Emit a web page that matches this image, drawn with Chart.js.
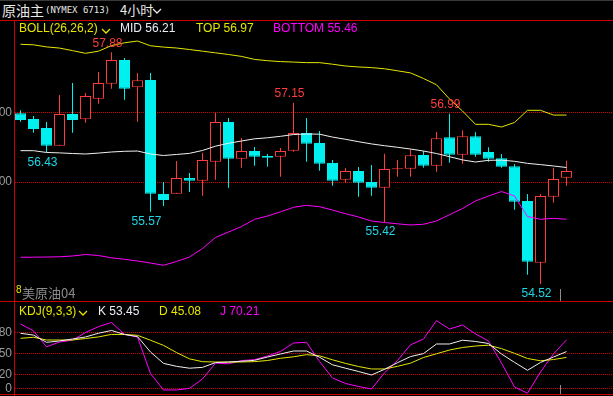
<!DOCTYPE html>
<html lang="zh">
<head>
<meta charset="utf-8">
<title>原油主 BOLL KDJ</title>
<script src="https://cdn.jsdelivr.net/npm/chart.js@4.4.1/dist/chart.umd.min.js"></script>
<style>
  html, body { margin: 0; padding: 0; background: #000; }
  body { position: relative; width: 613px; height: 396px; overflow: hidden; font-family: "Liberation Sans", Arial, sans-serif; }
  .abs { position: absolute; white-space: nowrap; }
  .hdr { font-size: 12px; line-height: 12px; }
  .red { position: absolute; background: #c80000; }
  .mark { position: absolute; background: #8c8c8c; width: 1px; }
</style>
</head>
<body>
  <div class="abs" style="left:0;top:0;width:613px;height:1px;background:#3a3a3a"></div>
  <div class="abs" style="left:2px;top:3px;font:14px/14px 'Noto Sans CJK SC';color:#e8e8e8">原油主</div>
  <div class="abs" style="left:45px;top:5px;font:9px/10px 'DejaVu Sans Mono';color:#e8e8e8">(NYMEX 6713)</div>
  <div class="abs" style="left:120px;top:3px;font:13px/14px 'Noto Sans CJK SC';color:#e8e8e8">4小时</div>
  <svg class="abs" style="left:152px;top:8px" width="11" height="7"><polyline points="1,1 5,5 9,1" fill="none" stroke="#e8e8e8" stroke-width="1.3"/></svg>

  <div class="abs" style="left:0;top:21px;width:613px;height:280px"><canvas id="mainChart"></canvas></div>
  <div class="abs" style="left:0;top:301px;width:613px;height:93px"><canvas id="kdjChart"></canvas></div>

  <div class="red" style="left:0;top:20px;width:613px;height:1px"></div>
  <div class="red" style="left:14px;top:20px;width:1px;height:376px"></div>
  <div class="red" style="left:0;top:301px;width:613px;height:1px"></div>
  <div class="red" style="left:0;top:394px;width:613px;height:1px"></div>

  <div class="abs hdr" style="left:19px;top:22px;color:#e6e600">BOLL(26,26,2)</div>
  <svg class="abs" style="left:101px;top:28px" width="10" height="6"><polyline points="1,1 5,5 9,1" fill="none" stroke="#e6e600" stroke-width="1.3"/></svg>
  <div id="midTxt" class="abs hdr" style="left:120px;top:22px;color:#e8ecf4"></div>
  <div id="topTxt" class="abs hdr" style="left:196px;top:22px;color:#e6e600"></div>
  <div id="botTxt" class="abs hdr" style="left:273px;top:22px;color:#ff00ff"></div>

  <div class="abs hdr" style="left:19px;top:305px;color:#e6e600">KDJ(9,3,3)</div>
  <svg class="abs" style="left:78px;top:310px" width="10" height="6"><polyline points="1,1 5,5 9,1" fill="none" stroke="#e6e600" stroke-width="1.3"/></svg>
  <div id="kTxt" class="abs hdr" style="left:98px;top:305px;color:#e8ecf4"></div>
  <div id="dTxt" class="abs hdr" style="left:159px;top:305px;color:#e6e600"></div>
  <div id="jTxt" class="abs hdr" style="left:220px;top:305px;color:#ff00ff"></div>

  <div class="abs" style="left:16px;top:285px;font:10px/10px 'Liberation Sans';color:#e6e600">8</div>
  <div class="abs" style="left:22px;top:286px;font:13px/13px 'Noto Sans CJK SC';color:#8c8c8c">美原油04</div>
  <div class="mark" style="left:560px;top:289px;height:12px"></div>
  <div class="mark" style="left:560px;top:385px;height:9px"></div>

<script>
const upColor = '#ff3c3c';
const downColor = '#00f0f0';
const gridColor = '#d00000';

// 4-hour bars
const opens = [56.996, 56.913, 56.783, 56.526, 56.986, 56.909, 57.207, 57.425, 57.768, 57.372, 57.478, 55.826, 55.830, 56.058, 56.019, 56.294, 56.870, 56.338, 56.449, 56.377, 56.367, 56.454, 56.710, 56.565, 56.275, 56.033, 56.159, 56.000, 55.917, 56.184, 56.193, 56.391, 56.236, 56.648, 56.396, 56.662, 56.435, 56.343, 56.228, 55.725, 54.830, 55.787, 56.062];
const highs = [57.039, 56.957, 56.870, 57.261, 57.435, 57.290, 57.594, 57.880, 57.797, 57.580, 57.580, 56.000, 56.304, 56.130, 56.425, 57.000, 56.928, 56.638, 56.507, 56.406, 56.493, 57.150, 56.928, 56.739, 56.319, 56.203, 56.217, 56.246, 56.410, 56.319, 56.474, 56.449, 56.725, 56.990, 56.749, 56.720, 56.503, 56.406, 56.261, 55.826, 55.826, 56.207, 56.309];
const lows = [56.874, 56.714, 56.430, 56.526, 56.714, 56.859, 57.135, 57.352, 57.193, 56.874, 55.570, 55.652, 55.830, 55.855, 55.801, 56.033, 55.917, 56.207, 56.236, 56.222, 56.077, 56.439, 56.294, 56.164, 55.946, 55.990, 55.787, 55.801, 55.420, 56.077, 56.077, 56.207, 56.149, 56.280, 56.265, 56.367, 56.294, 56.207, 55.599, 54.657, 54.520, 55.700, 55.946];
const closes = [56.899, 56.768, 56.526, 56.986, 56.899, 57.246, 57.435, 57.768, 57.352, 57.474, 55.830, 55.739, 56.058, 56.019, 56.319, 56.870, 56.338, 56.449, 56.367, 56.352, 56.449, 56.710, 56.555, 56.265, 56.019, 56.159, 55.990, 55.917, 56.188, 56.198, 56.387, 56.236, 56.633, 56.396, 56.662, 56.396, 56.338, 56.222, 55.714, 54.845, 55.797, 56.043, 56.159];

// BOLL(26,26,2)
const bollTop = [57.996, 57.988, 57.958, 57.941, 57.904, 57.865, 57.896, 57.977, 58.017, 58.043, 57.974, 57.955, 57.942, 57.920, 57.896, 57.872, 57.848, 57.820, 57.777, 57.758, 57.745, 57.738, 57.730, 57.730, 57.707, 57.681, 57.667, 57.658, 57.641, 57.612, 57.581, 57.500, 57.409, 57.203, 57.029, 56.836, 56.836, 56.797, 56.862, 57.039, 57.039, 56.970, 56.970];
const bollMid = [56.454, 56.454, 56.428, 56.422, 56.413, 56.406, 56.419, 56.435, 56.445, 56.449, 56.406, 56.384, 56.399, 56.415, 56.457, 56.519, 56.561, 56.594, 56.626, 56.641, 56.662, 56.688, 56.696, 56.693, 56.651, 56.619, 56.584, 56.552, 56.526, 56.503, 56.478, 56.449, 56.413, 56.367, 56.320, 56.290, 56.314, 56.317, 56.300, 56.270, 56.252, 56.232, 56.210];
const bollBot = [54.909, 54.910, 54.913, 54.916, 54.928, 54.949, 54.935, 54.901, 54.880, 54.855, 54.826, 54.793, 54.848, 54.913, 55.036, 55.196, 55.275, 55.355, 55.459, 55.507, 55.568, 55.633, 55.662, 55.642, 55.594, 55.541, 55.493, 55.435, 55.413, 55.394, 55.377, 55.387, 55.435, 55.526, 55.616, 55.725, 55.797, 55.862, 55.797, 55.500, 55.459, 55.474, 55.460];

// KDJ(9,3,3)
const kLine = [79.6, 77, 66.7, 68.6, 71.4, 74.3, 79.7, 83.6, 77.9, 74.9, 52.9, 36.6, 32.4, 29.7, 30.9, 37.7, 38.7, 39.6, 40.9, 45.7, 50, 54.3, 54.3, 45.4, 34.6, 29.7, 25, 20, 28.1, 37.6, 46.3, 50.6, 64.3, 64.3, 69.7, 67.9, 65, 50, 38.1, 26.7, 37.9, 45.7, 53.45];
const dLine = [72.4, 73.9, 70, 70, 70, 72.1, 74.4, 78, 77.9, 76.7, 69.7, 62.3, 52.1, 43.1, 39, 38.6, 38.3, 38.6, 39.1, 40.7, 43.9, 46, 49.1, 47.4, 41.7, 36.6, 32.1, 28.6, 28.6, 32.4, 36.9, 45, 50.3, 55.7, 59.3, 61.4, 62.6, 57.7, 51, 43.6, 40.3, 42.1, 45.08];
const jLine = [92.9, 83.1, 60.3, 67.1, 69.7, 80.7, 89.1, 95, 78.1, 74.3, 22.1, -1.4, -1.4, 0.9, 14.3, 37, 36, 40.6, 42, 47, 53.6, 65.7, 66.7, 39.3, 15.7, 7.9, 3.6, 0, 23.1, 40.7, 63.1, 71.4, 97.6, 85.7, 91.4, 78.6, 68.6, 37.1, 2.9, -6, 24.3, 50, 70.21];

const priceTicks = [56, 57];
const kdjTicks = [0, 20, 50, 80];
const highMarks = [7, 21, 33];      // bars whose high is labelled
const lowMarks = [2, 10, 28, 40];   // bars whose low is labelled

// header values
document.getElementById('midTxt').textContent = 'MID ' + bollMid[bollMid.length - 1].toFixed(2);
document.getElementById('topTxt').textContent = 'TOP ' + bollTop[bollTop.length - 1].toFixed(2);
document.getElementById('botTxt').textContent = 'BOTTOM ' + bollBot[bollBot.length - 1].toFixed(2);
document.getElementById('kTxt').textContent = 'K ' + kLine[kLine.length - 1].toFixed(2);
document.getElementById('dTxt').textContent = 'D ' + dLine[dLine.length - 1].toFixed(2);
document.getElementById('jTxt').textContent = 'J ' + jLine[jLine.length - 1].toFixed(2);

const isUp = closes.map((c, i) => c >= opens[i]);
const candleColor = isUp.map(u => u ? upColor : downColor);
const pts = arr => arr.map((v, i) => ({ x: i, y: v }));

// visible window: 13px per bar across the plot
const xMin = -0.423, xMax = 45.577;

function yAxis(min, max, ticks, fmt) {
  return {
    position: 'left', min, max,
    afterBuildTicks: s => { s.ticks = ticks.map(v => ({ value: v })); },
    afterFit: s => { s.width = 15; s.paddingTop = 0; s.paddingBottom = 0; },
    ticks: { color: '#9a9a9a', font: { size: 12, family: '"Liberation Sans", Arial' }, padding: 3, autoSkip: false, callback: fmt },
    grid: { display: false, drawTicks: false },
    border: { display: false }
  };
}

// dotted horizontal guides at the y tick values (one lit pixel in two)
const dottedGrid = {
  id: 'dottedGrid',
  beforeDatasetsDraw(chart) {
    const { ctx, chartArea, scales: { y } } = chart;
    ctx.save();
    ctx.fillStyle = gridColor;
    y.ticks.forEach(t => {
      const py = Math.floor(y.getPixelForValue(t.value));
      for (let px = Math.ceil(chartArea.left); px < chartArea.right; px += 2) {
        ctx.fillRect(px, py, 1, 1);
      }
    });
    ctx.restore();
  }
};

const common = {
  responsive: true,
  maintainAspectRatio: false,
  animation: false,
  events: [],
  layout: { padding: 0, autoPadding: false },
  plugins: { legend: { display: false }, tooltip: { enabled: false } }
};

const markPlugin = {
  id: 'marks',
  afterDatasetsDraw(chart) {
    const { ctx, scales: { x, y } } = chart;
    ctx.save();
    ctx.font = '12px "Liberation Sans", Arial, sans-serif';
    ctx.textAlign = 'left';
    ctx.fillStyle = upColor;
    ctx.textBaseline = 'bottom';
    highMarks.forEach(i => ctx.fillText(highs[i].toFixed(2), x.getPixelForValue(i) - 19, y.getPixelForValue(highs[i]) - 3));
    ctx.fillStyle = '#1ed6e6';
    ctx.textBaseline = 'top';
    lowMarks.forEach(i => ctx.fillText(lows[i].toFixed(2), x.getPixelForValue(i) - 19, y.getPixelForValue(lows[i]) + 4));
    ctx.restore();
  }
};

const lineDs = (label, data, color, order) => ({
  type: 'line', label, data: pts(data), borderColor: color, borderWidth: 1,
  pointRadius: 0, tension: 0, fill: false, order
});

new Chart(document.getElementById('mainChart'), {
  type: 'bar',
  data: {
    datasets: [
      lineDs('MID', bollMid, '#f0f0f0', 0),
      lineDs('TOP', bollTop, '#e6e600', 1),
      lineDs('BOTTOM', bollBot, '#ff00ff', 2),
      {
        label: 'body',
        data: opens.map((o, i) => ({ x: i, y: [o, closes[i]] })),
        backgroundColor: isUp.map(u => u ? '#000000' : downColor),
        borderColor: candleColor,
        borderWidth: 1,
        borderSkipped: false,
        grouped: false,
        barThickness: 11,
        maxBarThickness: 11,
        inflateAmount: 0,
        order: 3
      },
      {
        label: 'wick',
        data: lows.map((l, i) => ({ x: i, y: [l, highs[i]] })),
        backgroundColor: candleColor,
        borderWidth: 0,
        grouped: false,
        barThickness: 1,
        maxBarThickness: 1,
        inflateAmount: 0,
        order: 4
      }
    ]
  },
  options: {
    ...common,
    scales: {
      x: { type: 'linear', display: false, min: xMin, max: xMax, offset: false },
      y: yAxis(54.2754, 58.3333, priceTicks, v => v.toFixed(2))
    }
  },
  plugins: [dottedGrid, markPlugin]
});

new Chart(document.getElementById('kdjChart'), {
  type: 'line',
  data: {
    datasets: [
      lineDs('K', kLine, '#f0f0f0', 0),
      lineDs('D', dLine, '#e6e600', 1),
      lineDs('J', jLine, '#ff00ff', 2)
    ]
  },
  options: {
    ...common,
    scales: {
      x: { type: 'linear', display: false, min: xMin, max: xMax, offset: false },
      y: yAxis(-7.143, 125.714, kdjTicks, v => String(v))
    }
  },
  plugins: [dottedGrid]
});
</script>
</body>
</html>
